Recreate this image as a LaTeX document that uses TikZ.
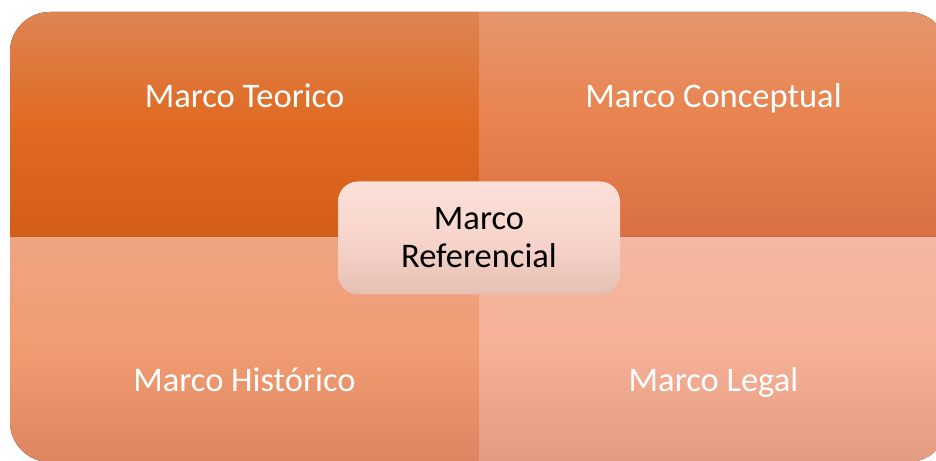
\documentclass[tikz,border=0pt]{standalone}
\usepackage{fontspec}
\setmainfont{Carlito}

\definecolor{teoT}{HTML}{DE8452}
\definecolor{teoM}{HTML}{E06A22}
\definecolor{teoB}{HTML}{D35E18}
\definecolor{conT}{HTML}{E5966C}
\definecolor{conM}{HTML}{E9824E}
\definecolor{conB}{HTML}{D87042}
\definecolor{hisT}{HTML}{EEA582}
\definecolor{hisM}{HTML}{F09C72}
\definecolor{hisB}{HTML}{DD8560}
\definecolor{legT}{HTML}{F4B8A0}
\definecolor{legM}{HTML}{F6B096}
\definecolor{legB}{HTML}{E39C80}
\definecolor{refT}{HTML}{FBE0D9}
\definecolor{refM}{HTML}{F8D5CB}
\definecolor{refB}{HTML}{E5BFB4}

\begin{document}
\begin{tikzpicture}[x=1pt,y=1pt,
  lbl/.style={text=white, anchor=base, font=\fontsize{34.5}{38}\selectfont},
  hub/.style={rounded corners=20pt, minimum width=282pt, minimum height=113pt, align=center,
    font=\fontsize{34.5}{38}\selectfont, top color=refT, bottom color=refB, middle color=refM}]
  \useasboundingbox (0,0) rectangle (936,460);
  \clip (0,0) rectangle (936,460);
  % the four quarters, only the outer corner is rounded
  \fill[top color=teoT, bottom color=teoB, middle color=teoM]
    (479,223) -- (10,223) -- (10,408) arc[start angle=180, end angle=90, radius=40] -- (479,448) -- cycle;
  \fill[top color=conT, bottom color=conB, middle color=conM]
    (479,223) -- (479,448) -- (908,448) arc[start angle=90, end angle=0, radius=40] -- (948,223) -- cycle;
  \fill[top color=hisT, bottom color=hisB, middle color=hisM]
    (479,223) -- (10,223) -- (10,38) arc[start angle=180, end angle=270, radius=40] -- (479,-2) -- cycle;
  \fill[top color=legT, bottom color=legB, middle color=legM]
    (479,223) -- (948,223) -- (948,38) arc[start angle=0, end angle=-90, radius=40] -- (479,-2) -- cycle;
  \node[lbl] (teo) at (244.5,352.5) {Marco Teorico};
  \node[lbl] (con) at (713.5,352.5) {Marco Conceptual};
  \node[lbl] (his) at (244.5,68.5) {Marco Histórico};
  \node[lbl] (leg) at (713.5,68.5) {Marco Legal};
  \node[hub] (ref) at (479,222) {Marco\\Referencial};
\end{tikzpicture}
\end{document}
